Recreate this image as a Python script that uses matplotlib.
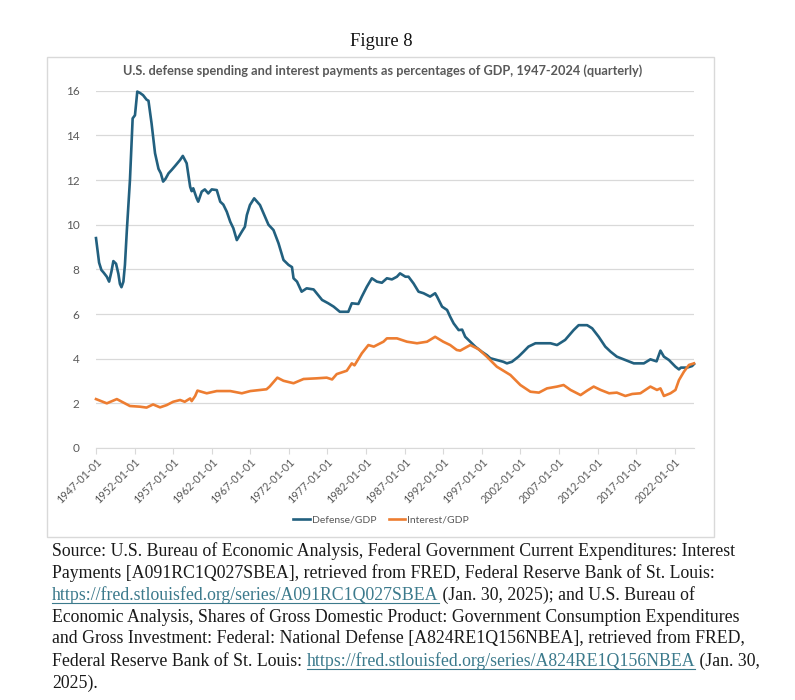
import numpy as np
import matplotlib
matplotlib.use('Agg')
import matplotlib.pyplot as plt
from matplotlib.patches import Rectangle
from matplotlib.lines import Line2D

# values (decimal year, percent of GDP)
def_years = [1947.0, 1947.4, 1947.7, 1948.0, 1948.4, 1948.7, 1949.0, 1949.25, 1949.6, 1949.9,
             1950.1, 1950.3, 1950.55, 1950.75, 1951.0, 1951.4, 1951.75, 1952.05, 1952.35, 1952.7,
             1953.1, 1953.55, 1953.8, 1954.2, 1954.65, 1955.1, 1955.4, 1955.7, 1956.0, 1956.4,
             1956.8, 1957.25, 1957.9, 1958.25, 1958.75, 1959.2, 1959.4, 1959.6, 1960.05, 1960.25,
             1960.7, 1961.1, 1961.55, 1962.0, 1962.65, 1963.1, 1963.5, 1963.95, 1964.4, 1964.8,
             1965.25, 1965.9, 1966.3, 1966.55, 1966.95, 1967.5, 1968.25, 1968.9, 1969.35, 1970.0,
             1970.65, 1971.3, 1971.95, 1972.4, 1972.6, 1973.05, 1973.65, 1974.3, 1975.2, 1975.6,
             1976.3, 1977.1, 1977.8, 1978.6, 1979.7, 1980.15, 1981.0, 1981.45, 1982.1, 1982.75,
             1983.4, 1984.05, 1984.7, 1985.35, 1986.0, 1986.4, 1987.1, 1987.5, 1988.15, 1988.8,
             1989.45, 1989.9, 1990.3, 1990.95, 1991.2, 1991.85, 1992.5, 1992.9, 1993.35, 1994.0,
             1994.45, 1994.85, 1995.5, 1996.15, 1997.0, 1997.65, 1998.1, 1998.95, 1999.8, 2000.25,
             2000.9, 2001.75, 2002.4, 2003.05, 2003.95, 2005.0, 2005.9, 2006.75, 2007.8, 2008.9,
             2009.55, 2010.65, 2011.3, 2012.15, 2013.0, 2013.7, 2014.5, 2015.6, 2016.7, 2018.0,
             2018.85, 2019.65, 2020.15, 2020.6, 2021.25, 2022.1, 2022.55, 2022.8, 2023.6, 2024.25,
             2024.5]
defense = [9.4, 8.3, 7.97, 7.85, 7.67, 7.45, 7.9, 8.37, 8.25, 7.8,
           7.35, 7.2, 7.45, 8.2, 9.76, 12.0, 14.76, 14.9, 15.96, 15.9,
           15.8, 15.6, 15.55, 14.54, 13.2, 12.5, 12.3, 11.93, 12.05, 12.3,
           12.45, 12.63, 12.9, 13.08, 12.75, 11.7, 11.5, 11.63, 11.18, 11.03,
           11.48, 11.58, 11.4, 11.58, 11.55, 11.03, 10.9, 10.58, 10.13, 9.84,
           9.31, 9.69, 9.91, 10.43, 10.88, 11.18, 10.88, 10.36, 10.0, 9.76,
           9.17, 8.42, 8.2, 8.1, 7.6, 7.45, 7.0, 7.15, 7.1, 6.93,
           6.63, 6.48, 6.33, 6.1, 6.1, 6.48, 6.45, 6.78, 7.22, 7.6,
           7.45, 7.4, 7.6, 7.55, 7.67, 7.82, 7.67, 7.67, 7.37, 7.0,
           6.93, 6.85, 6.78, 6.93, 6.78, 6.33, 6.18, 5.88, 5.58, 5.28,
           5.3, 4.98, 4.76, 4.54, 4.31, 4.16, 4.02, 3.94, 3.86, 3.79,
           3.86, 4.09, 4.31, 4.54, 4.69, 4.69, 4.69, 4.61, 4.84, 5.28,
           5.5, 5.5, 5.36, 4.98, 4.54, 4.31, 4.09, 3.94, 3.79, 3.79,
           3.97, 3.88, 4.36, 4.09, 3.94, 3.64, 3.52, 3.6, 3.6, 3.67,
           3.76]

int_years = [1947.0, 1948.4, 1949.7, 1951.4, 1952.7, 1953.55, 1954.4, 1955.3, 1956.15, 1957.0,
             1957.9, 1958.5, 1959.2, 1959.4, 1959.85, 1960.15, 1961.35, 1962.65, 1964.4, 1965.9,
             1967.0, 1969.1, 1969.5, 1970.5, 1971.3, 1972.6, 1973.9, 1975.6, 1976.9, 1977.6,
             1978.2, 1979.5, 1980.15, 1980.5, 1981.45, 1982.3, 1983.0, 1984.25, 1984.7, 1986.0,
             1987.3, 1988.6, 1989.9, 1990.95, 1992.0, 1992.9, 1993.75, 1994.2, 1995.5, 1996.6,
             1997.65, 1998.95, 2000.7, 2002.0, 2003.3, 2004.4, 2005.45, 2006.75, 2007.6, 2008.5,
             2009.8, 2010.65, 2011.5, 2012.4, 2013.5, 2014.5, 2015.6, 2016.5, 2017.55, 2018.85,
             2019.7, 2020.15, 2020.6, 2021.45, 2022.1, 2022.55, 2023.2, 2023.85, 2024.5]
interest = [2.19, 2.0, 2.19, 1.88, 1.85, 1.81, 1.95, 1.82, 1.92, 2.07,
            2.15, 2.07, 2.22, 2.1, 2.33, 2.57, 2.45, 2.55, 2.55, 2.45,
            2.55, 2.63, 2.75, 3.15, 3.01, 2.9, 3.09, 3.12, 3.15, 3.07,
            3.31, 3.46, 3.79, 3.7, 4.24, 4.61, 4.54, 4.76, 4.91, 4.91,
            4.76, 4.69, 4.76, 4.98, 4.76, 4.61, 4.39, 4.36, 4.61, 4.42,
            4.09, 3.64, 3.27, 2.82, 2.52, 2.48, 2.67, 2.75, 2.82, 2.6,
            2.37, 2.57, 2.75, 2.6, 2.45, 2.48, 2.33, 2.42, 2.45, 2.75,
            2.6, 2.67, 2.33, 2.45, 2.6, 3.04, 3.42, 3.72, 3.79]

tick_years = list(range(1947, 2023, 5))
tick_labels = ['%d-01-01' % y for y in tick_years]
y_ticks = [0, 2, 4, 6, 8, 10, 12, 14, 16]

title = 'U.S. defense spending and interest payments as percentages of GDP, 1947-2024 (quarterly)'
url1 = 'https://fred.stlouisfed.org/series/A091RC1Q027SBEA'
url2 = 'https://fred.stlouisfed.org/series/A824RE1Q156NBEA'
source_lines = [
    [('Source: U.S. Bureau of Economic Analysis, Federal Government Current Expenditures: Interest', False)],
    [('Payments [A091RC1Q027SBEA], retrieved from FRED, Federal Reserve Bank of St. Louis:', False)],
    [(url1, True), (' (Jan. 30, 2025); and U.S. Bureau of', False)],
    [('Economic Analysis, Shares of Gross Domestic Product: Government Consumption Expenditures', False)],
    [('and Gross Investment: Federal: National Defense [A824RE1Q156NBEA], retrieved from FRED,', False)],
    [('Federal Reserve Bank of St. Louis: ', False), (url2, True), (' (Jan. 30,', False)],
    [('2025).', False)],
]

W, H = 795, 700
fig = plt.figure(figsize=(W / 100, H / 100), dpi=100)
fig.patch.set_facecolor('white')

# chart frame
fig.patches.append(Rectangle((47 / W, 1 - 537 / H), (714 - 47) / W, (537 - 57) / H,
                             transform=fig.transFigure, fill=False, edgecolor='#d9d9d9', lw=1))

fig.text(381 / W, 1 - 41 / H, 'Figure 8', ha='center', va='center',
         family='Liberation Serif', fontsize=13.3, color='#111111')
fig.text(383 / W, 1 - 71 / H, title, ha='center', va='center', family='Lato',
         fontweight='bold', fontsize=9.2, color='#595959')

ax = fig.add_axes([96 / W, 1 - 448 / H, (694 - 96) / W, (448 - 90.7) / H])
blue = '#22607f'
orange = '#ed7d31'
ax.plot(def_years, defense, color=blue, lw=1.9, clip_on=False, solid_joinstyle='round')
ax.plot(int_years, interest, color=orange, lw=1.9, clip_on=False, solid_joinstyle='round')

ax.set_xlim(1947, 2024.5)
ax.set_ylim(0, 16)
ax.set_yticks(y_ticks)
ax.set_xticks(tick_years)
ax.set_xticklabels(tick_labels, rotation=45, ha='right', va='top', rotation_mode='anchor')
for s in ['top', 'right', 'left']:
    ax.spines[s].set_visible(False)
ax.spines['bottom'].set_color('#d9d9d9')
ax.grid(axis='y', color='#d9d9d9', lw=0.9)
ax.set_axisbelow(True)
ax.tick_params(axis='y', length=0, pad=12, labelsize=8.5, labelcolor='#595959')
ax.tick_params(axis='x', length=4, color='#d9d9d9', pad=2, labelsize=7.8, labelcolor='#595959')
for lab in ax.get_xticklabels() + ax.get_yticklabels():
    lab.set_family('Lato')

handles = [Line2D([], [], color=blue, lw=1.9), Line2D([], [], color=orange, lw=1.9)]
fig.legend(handles, ['Defense/GDP', 'Interest/GDP'], loc='center', ncol=2,
           bbox_to_anchor=(381 / W, 1 - 520 / H), frameon=False, handlelength=1.6,
           handletextpad=0.15, columnspacing=1.2, prop={'family': 'Lato', 'size': 7.5},
           labelcolor='#595959')

# source note, placed piece by piece so the links can be underlined
fig.canvas.draw()
r = fig.canvas.get_renderer()
link = '#3c7a8c'
for i, parts in enumerate(source_lines):
    y = 1 - (551 + i * 22) / H
    x = 52 / W
    for txt, is_link in parts:
        t = fig.text(x, y, txt, ha='left', va='center', family='Liberation Serif',
                     fontsize=12.8, color=link if is_link else '#1a1a1a')
        bb = t.get_window_extent(r)
        if is_link:
            uy = (bb.y0 + 1) / H
            fig.lines.append(Line2D([bb.x0 / W, bb.x1 / W], [uy, uy], transform=fig.transFigure,
                                    color=link, lw=0.8))
        x = bb.x1 / W

fig.savefig('out.png', dpi=100)
